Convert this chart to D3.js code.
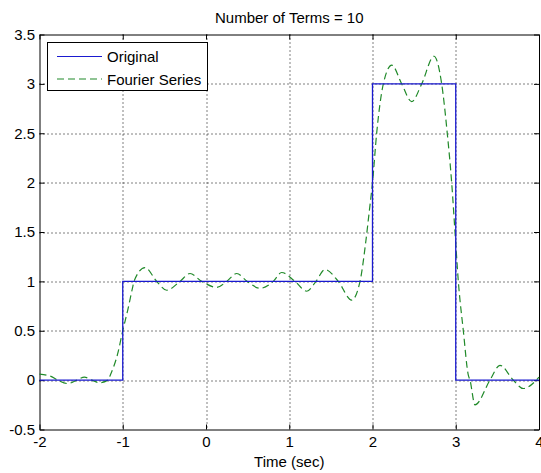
<!DOCTYPE html>
<html>
<head>
<meta charset="utf-8">
<script src="https://cdn.jsdelivr.net/npm/d3@7"></script>
<style>
  body { margin: 0; background: #fff; }
  svg { display: block; font-family: "Liberation Sans", Arial, sans-serif; }
</style>
</head>
<body>
<svg id="drawing_region"></svg>
<script>
// ---- data ----
const title = 'Number of Terms = 10';
const xLabel = 'Time (sec)';
const xTicks = [-2, -1, 0, 1, 2, 3, 4];
const yTicks = [-0.5, 0, 0.5, 1, 1.5, 2, 2.5, 3, 3.5];

// original square pulse
const originalX = [-2, -1, -1, 2, 2, 3, 3, 4];
const originalY = [0, 0, 1, 1, 3, 3, 0, 0];

// fourier series (10 terms), sampled from the plot
const fourierX = [-2.00, -1.87, -1.78, -1.66, -1.55, -1.46, -1.37, -1.28, -1.18, -1.14, -1.06, -1.00, -0.94, -0.88, -0.865,
  -0.733, -0.592, -0.472, -0.312, -0.192, -0.052, 0.129, 0.249, 0.369, 0.493, 0.649, 0.808, 0.909, 1.069,
  1.210, 1.321, 1.429, 1.589, 1.750, 1.850, 1.922, 1.96, 2.00, 2.05, 2.13, 2.231, 2.351, 2.471, 2.591, 2.739,
  2.831, 2.898, 2.951, 2.991, 3.031, 3.091, 3.151, 3.171, 3.231, 3.411, 3.531, 3.691, 3.811, 4.00];
const fourierY = [0.06, 0.04, 0.00, -0.035, 0.00, 0.03, 0.00, -0.027, 0.00, 0.07, 0.27, 0.50, 0.71, 0.945, 1.0,
  1.14, 1.0, 0.91, 1.0, 1.08, 1.0, 0.94, 1.0, 1.08, 1.0, 0.93, 1.0, 1.09, 1.0,
  0.90, 1.0, 1.12, 1.0, 0.81, 1.0, 1.42, 1.70, 2.0, 2.5, 3.0, 3.19, 3.0, 2.82, 3.0, 3.28,
  3.0, 2.5, 2.0, 1.5, 1.0, 0.5, 0.05, 0.0, -0.25, 0.0, 0.15, 0.0, -0.085, 0.03];

const config = {
    width: 541,
    height: 473,
    margin: {top: 34.5, right: 2, bottom: 43.5, left: 39.5},
    font_size: '15px'
};

const svg = d3.select('#drawing_region')
    .attr('width', config.width)
    .attr('height', config.height);

const inner_width = config.width - config.margin.left - config.margin.right;
const inner_height = config.height - config.margin.top - config.margin.bottom;

const chart = svg.append('g')
    .attr('transform', `translate(${config.margin.left}, ${config.margin.top})`);

const xscale = d3.scaleLinear().domain([-2, 4]).range([0, inner_width]);
const yscale = d3.scaleLinear().domain([-0.5, 3.5]).range([inner_height, 0]);

// grid (dotted)
chart.append('g').selectAll('line')
    .data(xTicks.slice(1, -1))
    .join('line')
    .attr('x1', d => Math.round(xscale(d)) + 0.5)
    .attr('x2', d => Math.round(xscale(d)) + 0.5)
    .attr('y1', 0).attr('y2', inner_height)
    .attr('stroke', '#000').attr('stroke-dasharray', '1,3');

chart.append('g').selectAll('line')
    .data(yTicks.slice(1, -1))
    .join('line')
    .attr('y1', d => Math.round(yscale(d)) + 0.5)
    .attr('y2', d => Math.round(yscale(d)) + 0.5)
    .attr('x1', 0).attr('x2', inner_width)
    .attr('stroke', '#000').attr('stroke-dasharray', '1,3');

// axes: ticks pointing inward on all four sides
const fmt = d => String(d);
const xAxis = chart.append('g')
    .attr('transform', `translate(0, ${inner_height})`)
    .call(d3.axisBottom(xscale).tickValues(xTicks).tickSizeInner(-5).tickSizeOuter(0).tickPadding(6.5).tickFormat(fmt));
const xAxisTop = chart.append('g')
    .call(d3.axisTop(xscale).tickValues(xTicks).tickSizeInner(-5).tickSizeOuter(0).tickFormat(''));
const yAxis = chart.append('g')
    .call(d3.axisLeft(yscale).tickValues(yTicks).tickSizeInner(-5).tickSizeOuter(0).tickPadding(4.5).tickFormat(fmt));
const yAxisRight = chart.append('g')
    .attr('transform', `translate(${inner_width}, 0)`)
    .call(d3.axisRight(yscale).tickValues(yTicks).tickSizeInner(-5).tickSizeOuter(0).tickFormat(''));

[xAxis, xAxisTop, yAxis, yAxisRight].forEach(a => {
    a.selectAll('.domain').attr('stroke', '#000');
    a.selectAll('.tick line').attr('stroke', '#000');
    a.selectAll('text').style('font-size', config.font_size).attr('fill', '#000')
        .style('font-family', '"Liberation Sans", Arial, sans-serif');
});

// lines
const line = d3.line()
    .x(d => xscale(d[0]))
    .y(d => yscale(d[1]));

chart.append('path')
    .datum(d3.zip(fourierX, fourierY))
    .attr('d', line.curve(d3.curveMonotoneX))
    .attr('fill', 'none')
    .attr('stroke', '#218a2a')
    .attr('stroke-width', 1.2)
    .attr('stroke-dasharray', '7,4');

chart.append('path')
    .datum(d3.zip(originalX, originalY))
    .attr('d', d3.line().x(d => xscale(d[0])).y(d => yscale(d[1])))
    .attr('fill', 'none')
    .attr('stroke', '#1a1ad0')
    .attr('stroke-width', 1.3);

// title and label
svg.append('text')
    .attr('x', config.margin.left + inner_width / 2)
    .attr('y', 23)
    .attr('text-anchor', 'middle')
    .style('font-size', config.font_size)
    .text(title);

svg.append('text')
    .attr('x', config.margin.left + inner_width / 2)
    .attr('y', 467)
    .attr('text-anchor', 'middle')
    .style('font-size', config.font_size)
    .text(xLabel);

// legend
const legend = svg.append('g');
legend.append('rect')
    .attr('x', 47.5).attr('y', 42.5)
    .attr('width', 160).attr('height', 48)
    .attr('fill', '#fff').attr('stroke', '#000');

const legendItems = [
    {name: 'Original', color: '#1a1ad0', dash: null},
    {name: 'Fourier Series', color: '#218a2a', dash: '7,4'}
];
legendItems.forEach((d, i) => {
    const y = 56.5 + i * 22.5;
    legend.append('line')
        .attr('x1', 57).attr('x2', 102)
        .attr('y1', y).attr('y2', y)
        .attr('stroke', d.color)
        .attr('stroke-width', 1.2)
        .attr('stroke-dasharray', d.dash);
    legend.append('text')
        .attr('x', 107).attr('y', y + 5.5)
        .style('font-size', config.font_size)
        .text(d.name);
});
</script>
</body>
</html>
